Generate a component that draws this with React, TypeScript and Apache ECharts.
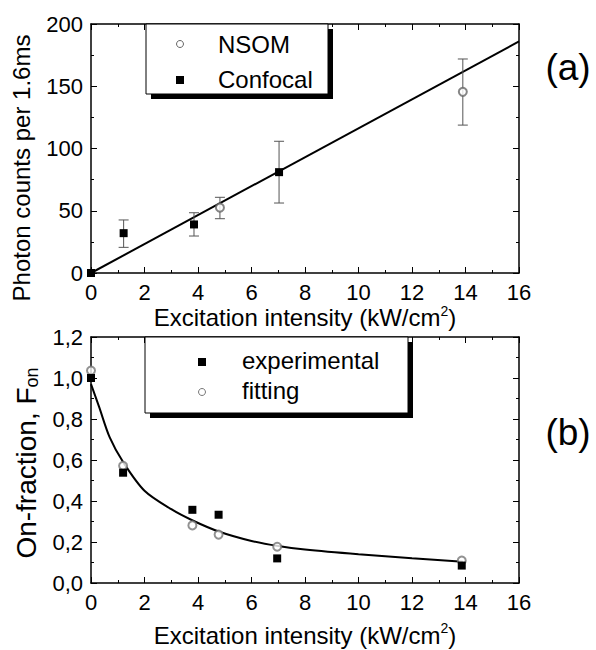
import React, { useEffect, useRef } from "react";
import * as echarts from "echarts";

const FONT = '"Liberation Sans", Arial, Helvetica, sans-serif';

// ---------- Panel (a) data ----------
const nsomPoints = [
  [4.82, 52.5],
  [13.9, 145.5],
];
const nsomErrors = [
  [4.82, 43.6, 60.8],
  [13.9, 118.8, 171.9],
];
const confocalPoints = [
  [0, 0],
  [1.22, 32],
  [3.85, 39],
  [7.03, 81],
];
const confocalErrors = [
  [1.22, 20.6, 42.6],
  [3.85, 29.7, 48.4],
  [7.03, 56.2, 105.8],
];
const linearFit = [
  [0, 0],
  [16, 186],
];

// ---------- Panel (b) data ----------
const experimentalPoints = [
  [0, 1.0],
  [1.2, 0.538],
  [3.79, 0.357],
  [4.77, 0.333],
  [6.96, 0.12],
  [13.86, 0.085],
];
const fittingPoints = [
  [0, 1.036],
  [1.2, 0.572],
  [3.79, 0.281],
  [4.77, 0.236],
  [6.96, 0.177],
  [13.86, 0.109],
];
const fitCurve = [
  [0, 0.97],
  [0.3, 0.86],
  [0.7, 0.71],
  [1.2, 0.59],
  [2, 0.45],
  [3, 0.36],
  [3.8, 0.305],
  [4.8, 0.25],
  [6, 0.205],
  [7, 0.18],
  [8, 0.163],
  [10, 0.14],
  [12, 0.121],
  [13.9, 0.104],
];

// ---------- Axis ranges ----------
const xRange = { min: 0, max: 16, interval: 2 };
const yRangeA = { min: 0, max: 200, interval: 50 };
const yRangeB = { min: 0, max: 1.2, interval: 0.2 };

const xTitle = "Excitation intensity (kW/cm{sup|2})";
const yTitleA = "Photon counts per 1.6ms";
const yTitleB = "On-fraction, F{sub|on}";

const axisCommon = {
  axisLine: { show: true, onZero: false, lineStyle: { color: "#000", width: 1.5 } },
  axisTick: { show: true, inside: true, length: 6, lineStyle: { color: "#000", width: 1 } },
  minorTick: { show: true, splitNumber: 2, length: 3, lineStyle: { color: "#000", width: 1 } },
  splitLine: { show: false },
  minorSplitLine: { show: false },
};

const labelStyle = { color: "#000", fontSize: 22, fontFamily: FONT, margin: 8 };

const errorBarItem = (params: any, api: any) => {
  const x = api.value(0);
  const lo = api.value(1);
  const hi = api.value(2);
  const top = api.coord([x, hi]);
  const bot = api.coord([x, lo]);
  const hw = 5;
  const style = { stroke: "#555", lineWidth: 1 };
  return {
    type: "group",
    children: [
      { type: "line", shape: { x1: top[0], y1: top[1], x2: bot[0], y2: bot[1] }, style },
      { type: "line", shape: { x1: top[0] - hw, y1: top[1], x2: top[0] + hw, y2: top[1] }, style },
      { type: "line", shape: { x1: bot[0] - hw, y1: bot[1], x2: bot[0] + hw, y2: bot[1] }, style },
    ],
  };
};

export default function App() {
  const ref = useRef<HTMLDivElement>(null);

  useEffect(() => {
    if (!ref.current) return;
    const chart = echarts.init(ref.current, undefined, { renderer: "svg" });

    const nameStyle = {
      color: "#000",
      fontSize: 24,
      fontFamily: FONT,
      lineHeight: 28,
      rich: {
        sup: { fontSize: 14, fontFamily: FONT, color: "#000", verticalAlign: "top", lineHeight: 14 },
      },
    };

    const option: any = {
      animation: false,
      backgroundColor: "#fff",
      grid: [
        { left: 91, top: 24, width: 428, height: 249 },
        { left: 91, top: 337, width: 428, height: 249 },
      ],
      xAxis: [
        {
          ...axisCommon,
          gridIndex: 0,
          type: "value",
          position: "bottom",
          ...xRange,
          axisLabel: labelStyle,
          name: xTitle,
          nameLocation: "middle",
          nameGap: 21,
          nameTextStyle: nameStyle,
        },
        {
          ...axisCommon,
          gridIndex: 0,
          type: "value",
          position: "top",
          ...xRange,
          axisLabel: { show: false },
        },
        {
          ...axisCommon,
          gridIndex: 1,
          type: "value",
          position: "bottom",
          ...xRange,
          axisLabel: labelStyle,
          name: xTitle,
          nameLocation: "middle",
          nameGap: 38,
          nameTextStyle: nameStyle,
        },
        {
          ...axisCommon,
          gridIndex: 1,
          type: "value",
          position: "top",
          ...xRange,
          axisLabel: { show: false },
        },
      ],
      yAxis: [
        {
          ...axisCommon,
          gridIndex: 0,
          type: "value",
          position: "left",
          ...yRangeA,
          axisLabel: labelStyle,
        },
        {
          ...axisCommon,
          gridIndex: 0,
          type: "value",
          position: "right",
          ...yRangeA,
          axisLabel: { show: false },
        },
        {
          ...axisCommon,
          gridIndex: 1,
          type: "value",
          position: "left",
          ...yRangeB,
          axisLabel: {
            ...labelStyle,
            formatter: (v: number) => v.toFixed(1).replace(".", ","),
          },
        },
        {
          ...axisCommon,
          gridIndex: 1,
          type: "value",
          position: "right",
          ...yRangeB,
          axisLabel: { show: false },
        },
      ],
      series: [
        {
          name: "fit-a",
          type: "line",
          xAxisIndex: 0,
          yAxisIndex: 0,
          data: linearFit,
          symbol: "none",
          lineStyle: { color: "#000", width: 2 },
          z: 2,
        },
        {
          name: "NSOM-err",
          type: "custom",
          xAxisIndex: 0,
          yAxisIndex: 0,
          data: nsomErrors,
          encode: { x: 0, y: [1, 2] },
          renderItem: errorBarItem,
          z: 3,
        },
        {
          name: "Confocal-err",
          type: "custom",
          xAxisIndex: 0,
          yAxisIndex: 0,
          data: confocalErrors,
          encode: { x: 0, y: [1, 2] },
          renderItem: errorBarItem,
          z: 3,
        },
        {
          name: "NSOM",
          type: "scatter",
          xAxisIndex: 0,
          yAxisIndex: 0,
          data: nsomPoints,
          symbol: "emptyCircle",
          symbolSize: 8,
          itemStyle: { color: "#666", borderWidth: 1 },
          z: 4,
        },
        {
          name: "Confocal",
          type: "scatter",
          xAxisIndex: 0,
          yAxisIndex: 0,
          data: confocalPoints,
          symbol: "rect",
          symbolSize: 8,
          itemStyle: { color: "#000", opacity: 1 },
          z: 5,
        },
        {
          name: "fit-b",
          type: "line",
          xAxisIndex: 2,
          yAxisIndex: 2,
          data: fitCurve,
          symbol: "none",
          smooth: 0.3,
          lineStyle: { color: "#000", width: 2 },
          z: 2,
        },
        {
          name: "fitting",
          type: "scatter",
          xAxisIndex: 2,
          yAxisIndex: 2,
          data: fittingPoints,
          symbol: "emptyCircle",
          symbolSize: 8,
          itemStyle: { color: "#777", borderWidth: 1 },
          z: 4,
        },
        {
          name: "experimental",
          type: "scatter",
          xAxisIndex: 2,
          yAxisIndex: 2,
          data: experimentalPoints,
          symbol: "rect",
          symbolSize: 8,
          itemStyle: { color: "#000", opacity: 1 },
          z: 5,
        },
      ],
      graphic: [
        // Y titles
        {
          type: "text",
          x: 21,
          y: 168,
          rotation: Math.PI / 2,
          style: {
            text: yTitleA,
            fontSize: 24,
            fontFamily: FONT,
            fill: "#000",
            align: "center",
            verticalAlign: "middle",
          },
        },
        {
          type: "text",
          x: 26,
          y: 463,
          rotation: Math.PI / 2,
          style: {
            text: yTitleB,
            fontSize: 28,
            fontFamily: FONT,
            fill: "#000",
            align: "center",
            verticalAlign: "middle",
            lineHeight: 30,
            rich: {
              sub: { fontSize: 18, fontFamily: FONT, fill: "#000", verticalAlign: "bottom", lineHeight: 18 },
            },
          },
        },
        // Panel labels
        {
          type: "text",
          x: 568,
          y: 67,
          style: { text: "(a)", fontSize: 37, fontFamily: FONT, fill: "#000", align: "center", verticalAlign: "middle" },
        },
        {
          type: "text",
          x: 568,
          y: 432,
          style: { text: "(b)", fontSize: 37, fontFamily: FONT, fill: "#000", align: "center", verticalAlign: "middle" },
        },
        // Legend (a)
        { type: "rect", z: 10, shape: { x: 151, y: 29, width: 182, height: 70 }, style: { fill: "#000" } },
        { type: "rect", z: 11, shape: { x: 146, y: 24, width: 182, height: 70 }, style: { fill: "#fff", stroke: "#000", lineWidth: 1 } },
        { type: "circle", z: 12, shape: { cx: 180, cy: 44, r: 3.5 }, style: { fill: "#fff", stroke: "#666", lineWidth: 1 } },
        { type: "rect", z: 12, shape: { x: 176, y: 76, width: 8, height: 8 }, style: { fill: "#000" } },
        {
          type: "text", z: 12, x: 218, y: 44,
          style: { text: "NSOM", fontSize: 24, fontFamily: FONT, fill: "#000", align: "left", verticalAlign: "middle" },
        },
        {
          type: "text", z: 12, x: 218, y: 79,
          style: { text: "Confocal", fontSize: 24, fontFamily: FONT, fill: "#000", align: "left", verticalAlign: "middle" },
        },
        // Legend (b)
        { type: "rect", z: 10, shape: { x: 150, y: 342, width: 263, height: 76 }, style: { fill: "#000" } },
        { type: "rect", z: 11, shape: { x: 145, y: 337, width: 263, height: 76 }, style: { fill: "#fff", stroke: "#000", lineWidth: 1 } },
        { type: "rect", z: 12, shape: { x: 198, y: 358, width: 8, height: 8 }, style: { fill: "#000" } },
        { type: "circle", z: 12, shape: { cx: 202, cy: 392, r: 3.5 }, style: { fill: "#fff", stroke: "#777", lineWidth: 1 } },
        {
          type: "text", z: 12, x: 242, y: 360,
          style: { text: "experimental", fontSize: 24, fontFamily: FONT, fill: "#000", align: "left", verticalAlign: "middle" },
        },
        {
          type: "text", z: 12, x: 242, y: 390,
          style: { text: "fitting", fontSize: 24, fontFamily: FONT, fill: "#000", align: "left", verticalAlign: "middle" },
        },
      ],
    };

    chart.setOption(option);
    return () => chart.dispose();
  }, []);

  return (
    <div
      ref={ref}
      style={{ position: "absolute", left: 0, top: 0, width: 596, height: 650 }}
    />
  );
}
